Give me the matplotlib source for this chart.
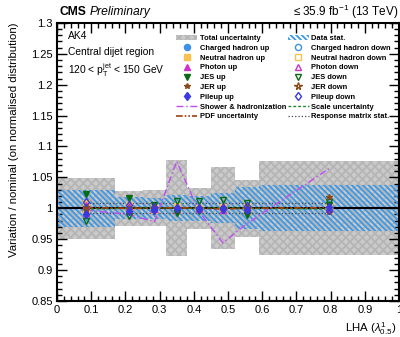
"""Systematic variations over nominal for the unfolded LHA distribution."""

import matplotlib
matplotlib.use('Agg')
from matplotlib import pyplot
from matplotlib.patches import Patch
from matplotlib.lines import Line2D
from matplotlib.ticker import MultipleLocator
import numpy

pyplot.rcParams['font.family'] = ['Liberation Sans', 'DejaVu Sans']
pyplot.rcParams['mathtext.fontset'] = 'custom'
pyplot.rcParams['mathtext.rm'] = 'Liberation Sans'
pyplot.rcParams['mathtext.it'] = 'Liberation Sans:italic'
pyplot.rcParams['hatch.linewidth'] = 1.3

# LHA bin edges and centres
edges = numpy.array([0.0, 0.17, 0.25, 0.32, 0.38, 0.45, 0.52, 0.59, 1.0])
centres = numpy.array([0.085, 0.21, 0.285, 0.35, 0.415, 0.485, 0.555, 0.795])

# relative uncertainties per bin
total_unc = [0.049, 0.028, 0.029, 0.078, 0.033, 0.066, 0.046, 0.076]
stat_unc = [0.030, 0.018, 0.017, 0.021, 0.020, 0.024, 0.034, 0.037]

# variation / nominal ratios
charged_up = [0.996, 0.997, 1.000, 1.001, 1.000, 1.002, 0.999, 1.001]
charged_down = [1.004, 1.003, 1.000, 0.999, 1.000, 0.998, 1.001, 0.999]
neutral_up = [1.009, 1.006, 1.002, 1.003, 1.001, 1.002, 1.004, 1.003]
neutral_down = [0.992, 0.995, 0.998, 0.997, 0.999, 0.998, 0.996, 0.997]
photon_up = [0.993, 0.996, 0.999, 1.002, 1.001, 1.003, 0.998, 1.001]
photon_down = [1.006, 1.004, 1.001, 0.998, 0.999, 0.997, 1.002, 0.999]
jes_up = [1.023, 1.016, 1.006, 0.992, 0.995, 0.998, 0.989, 1.005]
jes_down = [0.979, 0.987, 0.995, 1.012, 1.011, 1.013, 1.009, 1.010]
jer_up = [1.002, 1.001, 1.000, 1.000, 1.001, 1.000, 1.001, 1.019]
jer_down = [0.998, 0.999, 1.000, 1.000, 0.999, 1.000, 0.999, 0.994]
pileup_up = [0.990, 0.995, 0.998, 1.000, 0.999, 1.001, 0.997, 1.002]
pileup_down = [1.010, 1.005, 1.002, 1.000, 1.001, 0.999, 1.003, 0.998]

shower = [0.997, 0.990, 0.978, 1.076, 0.995, 0.944, 0.975, 1.064]
pdf = [1.001, 1.000, 1.000, 1.001, 1.000, 0.999, 1.000, 1.001]
scale = [0.999, 1.000, 1.001, 1.000, 1.000, 1.001, 1.000, 0.999]
response_up = [1.009, 1.009, 1.009, 1.009, 1.009, 1.009, 1.009, 1.009]
response_down = [0.992, 0.992, 0.992, 0.992, 0.992, 0.992, 0.992, 0.992]

fig = pyplot.figure(figsize=(4.0, 3.37), dpi=100)
ax = fig.add_axes([0.1425, 0.107, 0.855, 0.825])

widths = numpy.diff(edges)
total_unc = numpy.array(total_unc)
stat_unc = numpy.array(stat_unc)
ax.bar(edges[:-1], 2 * total_unc, widths, bottom=1 - total_unc, align='edge',
       facecolor='#cacaca', edgecolor='#b5b5b5', hatch='xxxx', linewidth=0,
       zorder=1)
ax.bar(edges[:-1], 2 * stat_unc, widths, bottom=1 - stat_unc, align='edge',
       facecolor='none', edgecolor='#3a98e8', hatch='\\' * 6, linewidth=0,
       zorder=2)

ax.axhline(1.0, color='black', linewidth=1.5, zorder=3)

ax.plot(centres, response_up, color='#444455', linestyle=':', linewidth=0.9,
        zorder=4)
ax.plot(centres, response_down, color='#444455', linestyle=':', linewidth=0.9,
        zorder=4)
ax.plot(centres, scale, color='#1a8a2a', linestyle=(0, (2, 1.5)),
        linewidth=1.0, zorder=4)
ax.plot(centres, pdf, color='#a0400a', linestyle=(0, (4, 1.2, 1, 1.2, 1, 1.2)),
        linewidth=1.2, zorder=4)
ax.plot(centres, shower, color='#c04cf0', linestyle=(0, (5, 2, 1, 2)),
        linewidth=1.0, zorder=4)

markers = [
    (charged_up, 'o', '#3f90e6', True),
    (charged_down, 'o', '#3f90e6', False),
    (neutral_up, 's', '#f9c14d', True),
    (neutral_down, 's', '#f9c14d', False),
    (photon_up, '^', '#cc33cc', True),
    (photon_down, '^', '#cc33cc', False),
    (jes_up, 'v', '#0a6a14', True),
    (jes_down, 'v', '#0a6a14', False),
    (jer_up, '*', '#8b4a1a', True),
    (jer_down, '*', '#8b4a1a', False),
    (pileup_up, 'd', '#3a3ae0', True),
    (pileup_down, 'd', '#3a3ae0', False),
]
for values, m, c, filled in markers:
    face = c if filled else 'none'
    ax.plot(centres, values, linestyle='none', marker=m, markersize=4.4,
            markerfacecolor=face, markeredgecolor=c, markeredgewidth=1.0,
            zorder=5)

ax.set_xlim(0, 1)
ax.set_ylim(0.85, 1.3)
ax.xaxis.set_minor_locator(MultipleLocator(0.02))
ax.yaxis.set_minor_locator(MultipleLocator(0.01))
ax.set_xticks(numpy.arange(0, 1.01, 0.1))
ax.set_xticklabels(['0', '0.1', '0.2', '0.3', '0.4', '0.5', '0.6', '0.7',
                    '0.8', '0.9', '1'])
ax.set_yticks(numpy.arange(0.85, 1.301, 0.05))
ax.set_yticklabels(['0.85', '0.9', '0.95', '1', '1.05', '1.1', '1.15', '1.2',
                    '1.25', '1.3'])
ax.tick_params(which='both', direction='in', top=True, right=True,
               labelsize=8, width=1.0, color='black')
ax.tick_params(which='major', length=7, pad=3)
ax.tick_params(which='minor', length=3.5)
for spine in ax.spines.values():
    spine.set_linewidth(1.5)

ax.set_ylabel('Variation / nominal (on normalised distribution)', fontsize=8.2,
              loc='top')
ax.yaxis.set_label_coords(-0.11, 1.0)
ax.set_xlabel(r'LHA ($\lambda^{1}_{0.5}$)', fontsize=8.2, loc='right')
ax.xaxis.set_label_coords(0.993, -0.068)

fig.text(0.15, 0.965, 'CMS', fontsize=8.7, fontweight='bold', va='center')
fig.text(0.225, 0.965, 'Preliminary', fontsize=8.7, style='italic',
         va='center')
fig.text(0.995, 0.965, r'$\leq$35.9 fb$^{-1}$ (13 TeV)', fontsize=8.5,
         ha='right', va='center')

ax.text(0.033, 0.952, 'AK4', fontsize=7.4, transform=ax.transAxes,
        va='center')
ax.text(0.033, 0.895, 'Central dijet region', fontsize=7.4,
        transform=ax.transAxes, va='center')
ax.text(0.033, 0.83, r'120 < p$_{\mathrm{T}}^{\mathrm{jet}}$ < 150 GeV',
        fontsize=7.4, transform=ax.transAxes, va='center')


def mk(m, c, filled, size=4.4):
    return Line2D([], [], linestyle='none', marker=m, markersize=size,
                  markerfacecolor=c if filled else 'none', markeredgecolor=c,
                  markeredgewidth=1.0)


col1 = [
    (Patch(facecolor='#cacaca', edgecolor='#b5b5b5', hatch='xxxx',
           linewidth=0), 'Total uncertainty'),
    (mk('o', '#3f90e6', True), 'Charged hadron up'),
    (mk('s', '#f9c14d', True), 'Neutral hadron up'),
    (mk('^', '#cc33cc', True), 'Photon up'),
    (mk('v', '#0a6a14', True), 'JES up'),
    (mk('*', '#8b4a1a', True), 'JER up'),
    (mk('d', '#3a3ae0', True), 'Pileup up'),
    (Line2D([], [], color='#c04cf0', linestyle=(0, (5, 2, 1, 2)),
            linewidth=1.0), 'Shower & hadronization'),
    (Line2D([], [], color='#a0400a', linestyle=(0, (4, 1.2, 1, 1.2, 1, 1.2)),
            linewidth=1.2), 'PDF uncertainty'),
]
col2 = [
    (Patch(facecolor='none', edgecolor='#3a98e8', hatch='\\' * 6,
           linewidth=0), 'Data stat.'),
    (mk('o', '#3f90e6', False), 'Charged hadron down'),
    (mk('s', '#f9c14d', False), 'Neutral hadron down'),
    (mk('^', '#cc33cc', False), 'Photon down'),
    (mk('v', '#0a6a14', False), 'JES down'),
    (mk('*', '#8b4a1a', False, 5.5), 'JER down'),
    (mk('d', '#3a3ae0', False), 'Pileup down'),
    (Line2D([], [], color='#1a8a2a', linestyle=(0, (2, 1.5)),
            linewidth=1.0), 'Scale uncertainty'),
    (Line2D([], [], color='#444455', linestyle=':', linewidth=0.9),
     'Response matrix stat.'),
]
entries = col1 + col2
ax.legend([h for h, _ in entries], [l for _, l in entries], ncol=2,
          loc='upper left', bbox_to_anchor=(0.349, 0.958), frameon=False,
          prop={'size': 5.4, 'weight': 'bold'}, handlelength=2.8,
          handleheight=0.8, handletextpad=0.35, columnspacing=0.2,
          labelspacing=0.31, borderpad=0, borderaxespad=0)

fig.savefig('out.png', dpi=100)
